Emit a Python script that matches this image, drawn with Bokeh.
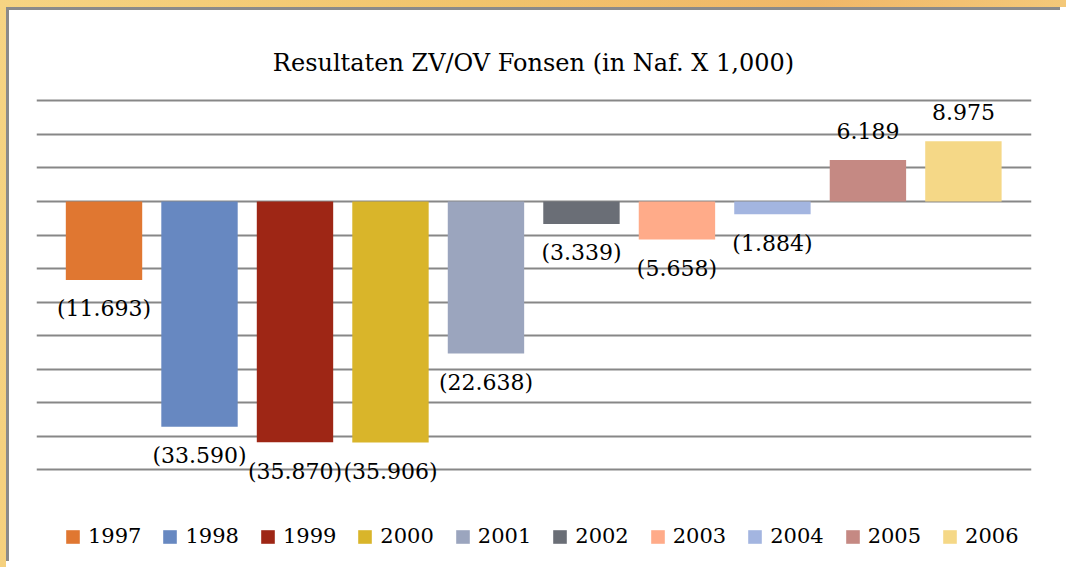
from bokeh.plotting import figure
from bokeh.models import (ColumnDataSource, FixedTicker, Legend, LegendItem, Label,
                          LabelSet, GlobalInlineStyleSheet)
from bokeh.core.properties import value
from bokeh.embed import file_html
from bokeh.resources import INLINE

# ---- data ----
years = ["1997", "1998", "1999", "2000", "2001", "2002", "2003", "2004", "2005", "2006"]
results = [-11693, -33590, -35870, -35906, -22638, -3339, -5658, -1884, 6189, 8975]
bar_labels = ["(11.693)", "(33.590)", "(35.870)", "(35.906)", "(22.638)",
              "(3.339)", "(5.658)", "(1.884)", "6.189", "8.975"]
colors = ["#E07731", "#6788C1", "#9E2615", "#D9B52A", "#9BA5BE",
          "#6A6E76", "#FFAB89", "#A3B5E0", "#C58983", "#F5D887"]
grid_ticks = [-40000, -35000, -30000, -25000, -20000, -15000, -10000,
              -5000, 0, 5000, 10000, 15000]

FONT = "DejaVu Serif"

src = ColumnDataSource(dict(
    x=list(range(len(years))),
    top=results,
    color=colors,
    text=bar_labels,
    yoff=[-29 if v < 0 else 29 for v in results],
))

p = figure(width=1054, height=554, output_backend="svg", toolbar_location=None,
           x_range=(-0.707, 9.713), y_range=(-54106, 28469),
           min_border_left=27, min_border_right=32, min_border_top=0, min_border_bottom=0,
           background_fill_color="white", border_fill_color="white",
           styles={"margin-left": "6px", "margin-top": "7px", "background": "white",
                   "border-top": "3px solid #8a8a8a", "border-left": "3px solid #8a8a8a",
                   "box-shadow": "12px 0 0 0 white, 0 12px 0 0 white, 12px 12px 0 0 white"})
p.stylesheets = [GlobalInlineStyleSheet(
    css="body{background:linear-gradient(100deg,#f6d483,#f1c46c 40%,#f0b768 70%,#f5cf80);}")]
p.outline_line_color = None
p.axis.visible = False
p.xgrid.visible = False
p.ygrid.ticker = FixedTicker(ticks=grid_ticks)
p.ygrid.grid_line_color = "#878787"
p.ygrid.grid_line_width = 2

r = p.vbar(x="x", top="top", bottom=0, width=0.8, fill_color="color",
           line_color=None, source=src)

labels = LabelSet(x="x", y="top", text="text", source=src, y_offset="yoff",
                  text_align="center", text_baseline="middle",
                  text_font=value(FONT), text_font_size=value("22px"),
                  text_color=value("black"))
p.add_layout(labels)

title = Label(x=497, y=502, x_units="screen", y_units="screen",
              text="Resultaten ZV/OV Fonsen (in Naf. X 1,000)",
              text_align="center", text_baseline="middle",
              text_font=FONT, text_font_size="24px", text_color="black")
p.add_layout(title)

items = [LegendItem(label=y, renderers=[r], index=i) for i, y in enumerate(years)]
legend = Legend(items=items, orientation="horizontal", location=(28, 16),
                glyph_width=17, glyph_height=17, label_standoff=7, spacing=20,
                padding=0, margin=0, border_line_color=None, background_fill_alpha=0,
                label_text_font=FONT, label_text_font_size="21px", label_text_color="black")
p.add_layout(legend)

open("out.html", "w").write(file_html(p, INLINE))
